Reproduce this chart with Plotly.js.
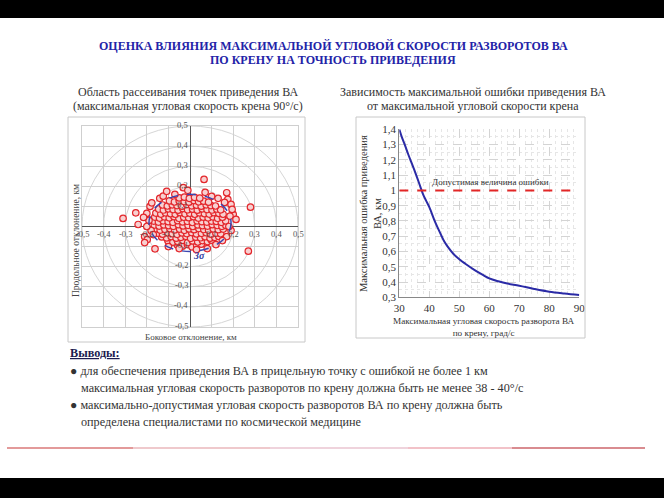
<!DOCTYPE html>
<html><head><meta charset="utf-8">
<script src="https://cdn.plot.ly/plotly-3.0.1.min.js"></script>
<style>html,body{margin:0;padding:0;background:#fff}#chart{width:664px;height:498px}</style>
</head><body><div id="chart"></div>
<script>
// ---------- DATA ----------
const titleLines = ["ОЦЕНКА ВЛИЯНИЯ МАКСИМАЛЬНОЙ УГЛОВОЙ СКОРОСТИ РАЗВОРОТОВ ВА", "ПО КРЕНУ НА ТОЧНОСТЬ ПРИВЕДЕНИЯ"];
const leftSubtitle = ["Область рассеивания точек приведения ВА", "(максимальная угловая скорость крена 90°/с)"];
const rightSubtitle = ["Зависимость максимальной ошибки приведения ВА", "от максимальной угловой скорости крена"];
const leftXTitle = "Боковое отклонение, км";
const leftYTitle = "Продольное отклонение, км";
const rightXTitle = "Максимальная угловая скорость разворота ВА<br>по крену, град/с";
const rightYTitle = "Максимальная ошибка приведения<br>ВА, км";
const limitLabel = "Допустимая величина ошибки";
const sigmaLabel = "3σ";
const conclusionsHead = "Выводы:";
const conclusions = [
  "● для обеспечения приведения ВА в прицельную точку с ошибкой не более 1 км",
  "максимальная угловая скорость разворотов по крену должна быть не менее 38 - 40°/с",
  "● максимально-допустимая угловая скорость разворотов ВА по крену должна быть",
  "определена специалистами по космической медицине"
];

const scatterTicks = [-0.5,-0.4,-0.3,-0.2,-0.1,0.1,0.2,0.3,0.4,0.5];
const rangeCircles = [0.2,0.3,0.4,0.5];
const sigmaEllipse = {cx:0.0, cy:0.018, rx:0.19, ry:0.142};

const coreX = [
 -0.058,-0.035,-0.012,0.009,0.031,0.052,
 -0.102,-0.079,-0.057,-0.033,-0.011,0.012,0.036,0.058,0.081,0.100,
 -0.131,-0.108,-0.087,-0.064,-0.042,-0.019,0.003,0.027,0.049,0.070,0.093,0.115,0.133,
 -0.149,-0.127,-0.104,-0.082,-0.060,-0.037,-0.015,0.008,0.030,0.053,0.075,0.097,0.120,0.142,
 -0.160,-0.138,-0.116,-0.093,-0.071,-0.048,-0.026,-0.004,0.019,0.041,0.064,0.086,0.108,0.131,0.154,
 -0.165,-0.143,-0.121,-0.099,-0.077,-0.054,-0.032,-0.009,0.013,0.036,0.058,0.081,0.103,0.126,0.148,0.166,
 -0.168,-0.146,-0.124,-0.101,-0.079,-0.057,-0.034,-0.012,0.011,0.033,0.055,0.078,0.100,0.122,0.145,0.165,
 -0.163,-0.141,-0.118,-0.096,-0.074,-0.051,-0.029,-0.006,0.016,0.039,0.061,0.084,0.106,0.128,0.150,
 -0.158,-0.135,-0.113,-0.090,-0.068,-0.046,-0.023,-0.001,0.022,0.044,0.067,0.089,0.111,0.134,0.153,
 -0.145,-0.123,-0.100,-0.078,-0.055,-0.033,-0.011,0.012,0.034,0.057,0.079,0.102,0.124,0.142,
 -0.127,-0.105,-0.082,-0.060,-0.037,-0.015,0.008,0.030,0.052,0.075,0.097,0.118,
 -0.095,-0.072,-0.050,-0.027,-0.005,0.018,0.040,0.063,0.086,
 -0.050,-0.026,-0.003,0.021,0.045
];
const coreY = [
 -0.092,-0.098,-0.090,-0.101,-0.094,-0.088,
 -0.071,-0.078,-0.074,-0.069,-0.080,-0.072,-0.077,-0.070,-0.075,-0.068,
 -0.052,-0.057,-0.050,-0.058,-0.054,-0.049,-0.059,-0.053,-0.056,-0.051,-0.058,-0.054,-0.049,
 -0.033,-0.038,-0.031,-0.036,-0.039,-0.032,-0.035,-0.030,-0.037,-0.034,-0.031,-0.038,-0.033,-0.036,
 -0.012,-0.018,-0.014,-0.011,-0.017,-0.013,-0.019,-0.012,-0.016,-0.010,-0.015,-0.018,-0.012,-0.016,-0.013,
 0.007,0.002,0.008,0.004,0.001,0.009,0.003,0.006,0.000,0.008,0.004,0.002,0.009,0.005,0.001,0.006,
 0.027,0.022,0.028,0.024,0.021,0.029,0.023,0.026,0.020,0.028,0.024,0.022,0.027,0.025,0.021,0.028,
 0.047,0.042,0.048,0.043,0.049,0.041,0.046,0.044,0.049,0.042,0.047,0.043,0.048,0.041,0.046,
 0.067,0.062,0.068,0.064,0.061,0.069,0.063,0.066,0.061,0.068,0.064,0.062,0.069,0.065,0.061,
 0.087,0.082,0.088,0.084,0.081,0.089,0.083,0.086,0.081,0.088,0.084,0.082,0.087,0.083,
 0.107,0.102,0.108,0.104,0.101,0.109,0.103,0.106,0.101,0.108,0.104,0.102,
 0.127,0.122,0.128,0.124,0.121,0.129,0.123,0.126,0.121,
 0.142,0.146,0.140,0.145,0.141
];
const outerX = [-0.310,-0.251,-0.240,-0.210,-0.198,-0.210,-0.162,-0.190,-0.185,-0.200,-0.177,-0.140,-0.124,-0.108,-0.070,-0.031,-0.010,0.065,0.070,0.100,0.130,0.170,0.175,0.190,0.160,0.200,0.185,0.213,0.280,0.270,0.080,0.190,0.180,0.170,0.150,0.120,-0.180,-0.170,-0.200,-0.100,-0.050,0.030,0.195,-0.215];
const outerY = [0.040,0.068,0.010,-0.050,-0.065,-0.080,-0.111,0.030,0.100,0.065,0.118,0.140,0.151,0.175,0.160,0.193,0.180,0.234,0.170,0.150,0.140,0.168,0.135,0.110,0.120,0.060,0.052,0.035,0.096,-0.123,-0.110,-0.020,0.000,-0.050,-0.070,-0.090,-0.020,-0.040,0.000,-0.100,-0.110,-0.115,0.085,0.045];

const speedX = [30,31,32,33,34,35,36,37,38,39,40,42,44,45,46,48,50,52,55,58,60,63,66,70,75,80,85,90];
const errorY = [1.40,1.34,1.29,1.235,1.185,1.134,1.08,1.025,0.97,0.93,0.89,0.79,0.705,0.665,0.635,0.585,0.549,0.52,0.48,0.445,0.424,0.405,0.39,0.376,0.355,0.337,0.325,0.315];
const limitX = [30,90];
const limitY = [1,1];
const limitLabelPos = [60.5, 1.0];

// ---------- LAYOUT HELPERS (pixel -> paper) ----------
const W = 664, H = 498;
const px = x => x / W;
const py = y => 1 - y / H;
const serif = "Liberation Serif";
const fmt = v => v.toFixed(1).replace('.', ',');
const A = o => Object.assign({showarrow:false, xanchor:'center', yanchor:'middle'}, o);

const traces = [
  {x: coreX.concat(outerX), y: coreY.concat(outerY), xaxis:'x', yaxis:'y', type:'scatter', mode:'markers',
   marker:{symbol:'circle', size:6.5, color:'#f8d0d0', line:{color:'#e3262b', width:1.2}}, hoverinfo:'skip'},
  {x: speedX, y: errorY, xaxis:'x2', yaxis:'y2', type:'scatter', mode:'lines', line:{color:'#2b2ba6', width:2, shape:'spline'}},
  {x: limitX, y: limitY, xaxis:'x2', yaxis:'y2', type:'scatter', mode:'lines', line:{color:'#e32626', width:2, dash:'dash'}}
];

const ann = [];
titleLines.forEach((t,i)=>ann.push(A({text:'<b>'+t+'</b>', xref:'paper', yref:'paper', x:px(333), y:py(46+i*14), font:{family:serif, size:12, color:'#2323a8'}})));
leftSubtitle.forEach((t,i)=>ann.push(A({text:t, xref:'paper', yref:'paper', x:px(188), y:py(92+i*14), font:{family:serif, size:12, color:'#333'}})));
rightSubtitle.forEach((t,i)=>ann.push(A({text:t, xref:'paper', yref:'paper', x:px(473), y:py(92+i*14), font:{family:serif, size:12, color:'#333'}})));
scatterTicks.forEach(v=>{
  ann.push(A({text:fmt(v), xref:'x', yref:'y', x:v, y:0, yshift:-7, borderpad:0, font:{family:serif, size:8.5, color:'#555'}}));
  ann.push(A({text:fmt(v), xref:'x', yref:'y', x:0, y:v, xanchor:'right', xshift:-1, yshift:1.5, borderpad:0, font:{family:serif, size:8.5, color:'#555'}}));
});
ann.push(A({text:'<i><b>'+sigmaLabel+'</b></i>', xref:'x', yref:'y', x:0.04, y:-0.145, font:{family:serif, size:10, color:'#2f3aa0'}}));
ann.push(A({text:leftXTitle, xref:'paper', yref:'paper', x:px(191), y:py(336.5), borderpad:0, font:{family:serif, size:9, color:'#444'}}));
ann.push(A({text:leftYTitle, xref:'paper', yref:'paper', x:px(76), y:py(241), textangle:-90, font:{family:serif, size:9.5, color:'#444'}}));
ann.push(A({text:limitLabel, xref:'x2', yref:'y2', x:limitLabelPos[0], y:limitLabelPos[1], yshift:8, font:{family:serif, size:9, color:'#333'}}));
ann.push(A({text:rightXTitle, xref:'paper', yref:'paper', x:px(484), y:py(327), font:{family:serif, size:9.2, color:'#333'}}));
ann.push(A({text:rightYTitle, xref:'paper', yref:'paper', x:px(370), y:py(214), textangle:-90, font:{family:serif, size:10.5, color:'#333'}}));
ann.push(A({text:'<b><u>'+conclusionsHead+'</u></b>', xref:'paper', yref:'paper', x:px(68), y:py(353), xanchor:'left', font:{family:serif, size:12.2, color:'#1b1b50'}}));
conclusions.forEach((t,i)=>ann.push(A({text:t, xref:'paper', yref:'paper', x:px(i%2===0?68:79), y:py(371+i*17), xanchor:'left', font:{family:serif, size:12.2, color:'#333'}})));

const shapes = [];
shapes.push({type:'rect', xref:'paper', yref:'paper', x0:0, x1:1, y0:py(18), y1:1, fillcolor:'#000', line:{width:0}});
shapes.push({type:'rect', xref:'paper', yref:'paper', x0:0, x1:1, y0:0, y1:py(478), fillcolor:'#000', line:{width:0}});
shapes.push({type:'rect', xref:'paper', yref:'paper', x0:px(68), x1:px(305), y0:py(342), y1:py(117), line:{color:'#c8c8c8', width:1}});
shapes.push({type:'rect', xref:'paper', yref:'paper', x0:px(356), x1:px(585), y0:py(338), y1:py(117), line:{color:'#c8c8c8', width:1}});
[[7,133,'#e39a9a'],[133,270,'#efc9cc'],[270,408,'#efd3dc'],[408,512,'#f2c2c8'],[512,645,'#d98c90']].forEach(s=>
  shapes.push({type:'line', xref:'paper', yref:'paper', x0:px(s[0]), x1:px(s[1]), y0:py(448), y1:py(448), line:{color:s[2], width:2}}));
rangeCircles.forEach(r=>shapes.push({type:'circle', xref:'x', yref:'y', x0:-r, x1:r, y0:-r, y1:r, layer:'below', line:{color:'#d6d6d6', width:1}}));
shapes.push({type:'circle', xref:'x', yref:'y', x0:sigmaEllipse.cx-sigmaEllipse.rx, x1:sigmaEllipse.cx+sigmaEllipse.rx,
  y0:sigmaEllipse.cy-sigmaEllipse.ry, y1:sigmaEllipse.cy+sigmaEllipse.ry, layer:'above', line:{color:'#3a46b0', width:1.5, dash:'dash'}});

const layout = {
  width:W, height:H, margin:{l:0,r:0,t:0,b:0}, paper_bgcolor:'#fff', plot_bgcolor:'#fff',
  showlegend:false, separators:', ', font:{family:serif},
  xaxis:{domain:[px(82),px(298)], range:[-0.5,0.5], dtick:0.1, showticklabels:false, ticks:'',
    gridcolor:'#cfcfcf', zeroline:true, zerolinecolor:'#555', zerolinewidth:1, showline:true, mirror:true, linecolor:'#cfcfcf', fixedrange:true},
  yaxis:{domain:[py(327),py(126)], range:[-0.5,0.5], dtick:0.1, showticklabels:false, ticks:'',
    gridcolor:'#cfcfcf', zeroline:true, zerolinecolor:'#555', zerolinewidth:1, showline:true, mirror:true, linecolor:'#cfcfcf', fixedrange:true},
  xaxis2:{domain:[px(399.3),px(579.3)], range:[30,90], dtick:10, anchor:'y2',
    tickfont:{family:serif, size:11, color:'#333'}, gridcolor:'#d4d4d4', griddash:'dash',
    minor:{dtick:2, showgrid:true, gridcolor:'#e6e6e6', griddash:'dot'},
    zeroline:false, showline:true, linecolor:'#888', ticks:'', fixedrange:true},
  yaxis2:{domain:[py(297.3),py(129.3)], range:[0.3,1.4], dtick:0.1, anchor:'x2',
    tickfont:{family:serif, size:11, color:'#333'}, gridcolor:'#d4d4d4', griddash:'dash',
    minor:{dtick:0.05, showgrid:true, gridcolor:'#e6e6e6', griddash:'dot'},
    zeroline:false, showline:true, linecolor:'#888', ticks:'', fixedrange:true},
  annotations: ann, shapes: shapes
};
Plotly.newPlot('chart', traces, layout, {staticPlot:true, displayModeBar:false});
</script></body></html>
